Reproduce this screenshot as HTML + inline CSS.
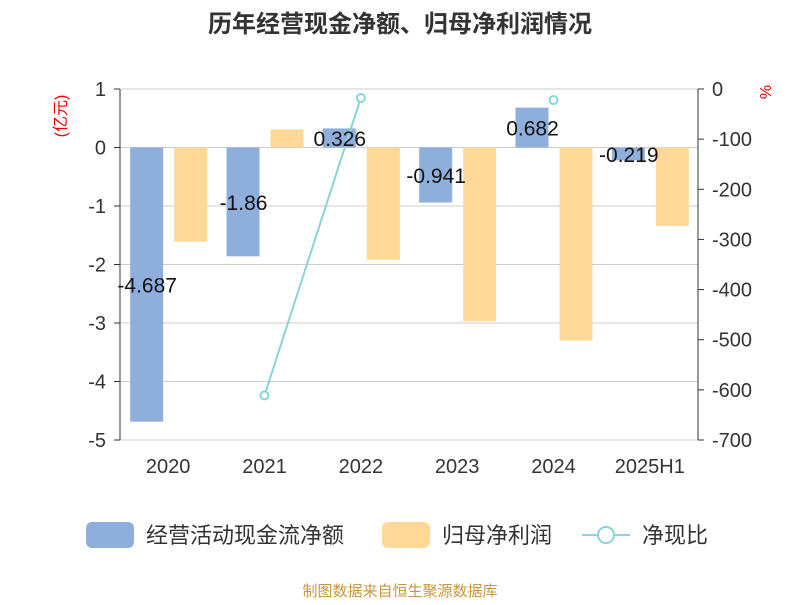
<!DOCTYPE html>
<html><head><meta charset="utf-8"><style>
body{margin:0;background:#fff}
text{font-family:"Liberation Sans","Noto Sans CJK SC",sans-serif}
</style></head><body>
<svg id="c" width="800" height="600" xmlns="http://www.w3.org/2000/svg">
<text x="400" y="32" text-anchor="middle" font-size="24" font-weight="bold" fill="#333">历年经营现金净额、归母净利润情况</text>
<text transform="translate(66,116) rotate(-90)" text-anchor="middle" font-size="16" fill="#e00">(亿元)</text>
<text transform="translate(771,92) rotate(-90)" text-anchor="middle" font-size="16" fill="#e00">%</text>
<g id="grid"></g><g id="bars"></g><g id="line"></g><g id="labels"></g><g id="axes"></g>
<g>
<rect x="86" y="522" width="48" height="26" rx="6" fill="#8eaedc"/>
<text x="146" y="543" font-size="22" fill="#333">经营活动现金流净额</text>
<rect x="382" y="522" width="48" height="26" rx="6" fill="#ffd898"/>
<text x="442" y="543" font-size="22" fill="#333">归母净利润</text>
<line x1="582" y1="535" x2="630" y2="535" stroke="#88d4d8" stroke-width="2"/>
<circle cx="606" cy="535" r="8" fill="#fff" stroke="#88d4d8" stroke-width="2"/>
<text x="642" y="543" font-size="22" fill="#333">净现比</text>
</g>
<text x="400" y="596" text-anchor="middle" font-size="15" fill="#c8963c">制图数据来自恒生聚源数据库</text>
</svg>
<script>
const categories=["2020","2021","2022","2023","2024","2025H1"];
const cashflow=[-4.687,-1.86,0.326,-0.941,0.682,-0.219];
const profit=[-1.61,0.31,-1.92,-2.97,-3.3,-1.34];
const ratio=[null,-611,-18,null,-22,null];
const leftTicks=[1,0,-1,-2,-3,-4,-5];
const rightTicks=[0,-100,-200,-300,-400,-500,-600,-700];
const NS="http://www.w3.org/2000/svg";
const X0=120,X1=698,Ytop=89,Ybot=440;
const yL=v=>Ytop+(1-v)/6*(Ybot-Ytop);
const yR=v=>Ytop+(0-v)/700*(Ybot-Ytop);
const bw=(X1-X0)/categories.length;
const xc=i=>X0+bw*(i+0.5);
function mk(tag,attrs,parent,txt){const e=document.createElementNS(NS,tag);for(const k in attrs)e.setAttribute(k,attrs[k]);if(txt!==undefined)e.textContent=txt;document.getElementById(parent).appendChild(e);return e;}
leftTicks.forEach(t=>{
 const g=mk('line',{x1:X0,x2:X1,y1:yL(t),y2:yL(t),stroke:'#ccc','stroke-width':1},'grid');
 
 
 const l=mk('text',{x:X0-14,y:yL(t)+7,'text-anchor':'end','font-size':20,fill:'#333'},'axes',String(t).replace('-','-'));
 
 
 const k=mk('line',{x1:X0-6,x2:X0,y1:yL(t),y2:yL(t),stroke:'#333'},'axes');
 
 
});
rightTicks.forEach(t=>{
 const l=mk('text',{x:X1+14,y:yR(t)+7,'font-size':20,fill:'#333'},'axes',String(t));
 
 
 const k=mk('line',{x1:X1,x2:X1+6,y1:yR(t),y2:yR(t),stroke:'#333'},'axes');
 
 
});
[X0,X1].forEach(x=>{const a=mk('line',{x1:x,x2:x,y1:Ytop,y2:Ybot,stroke:'#333'},'axes');
 
 });
categories.forEach((c,i)=>{
 const l=mk('text',{x:xc(i),y:473,'text-anchor':'middle','font-size':20,fill:'#333'},'axes',c);
 
 
 const bx=xc(i)-38, by=Math.min(yL(0),yL(cashflow[i])), bh=Math.abs(yL(cashflow[i])-yL(0));
 const b=mk('rect',{x:bx,y:by,width:33,height:bh,fill:'#8eaedc'},'bars');
 
 
 const py=Math.min(yL(0),yL(profit[i])), ph=Math.abs(yL(profit[i])-yL(0));
 const p=mk('rect',{x:xc(i)+6,y:py,width:33,height:ph,fill:'#ffd898'},'bars');
 
 
 const t=mk('text',{x:xc(i)-21,y:by+bh/2+8,'text-anchor':'middle','font-size':21,fill:'#111'},'labels',String(cashflow[i]));
 
 
});
let seg=[];
const segs=[];
ratio.forEach((v,i)=>{if(v===null){if(seg.length)segs.push(seg);seg=[];}else seg.push([xc(i),yR(v)]);});
if(seg.length)segs.push(seg);
segs.forEach(s=>{if(s.length>1){const p=mk('polyline',{points:s.map(q=>q.join(',')).join(' '),fill:'none',stroke:'#88d4d8','stroke-width':2},'line');
 
 }});
ratio.forEach((v,i)=>{if(v===null)return;
 const c=mk('circle',{cx:xc(i),cy:yR(v),r:4,fill:'#fff',stroke:'#88d4d8','stroke-width':2},'line');
 
 });
</script>
</body></html>
